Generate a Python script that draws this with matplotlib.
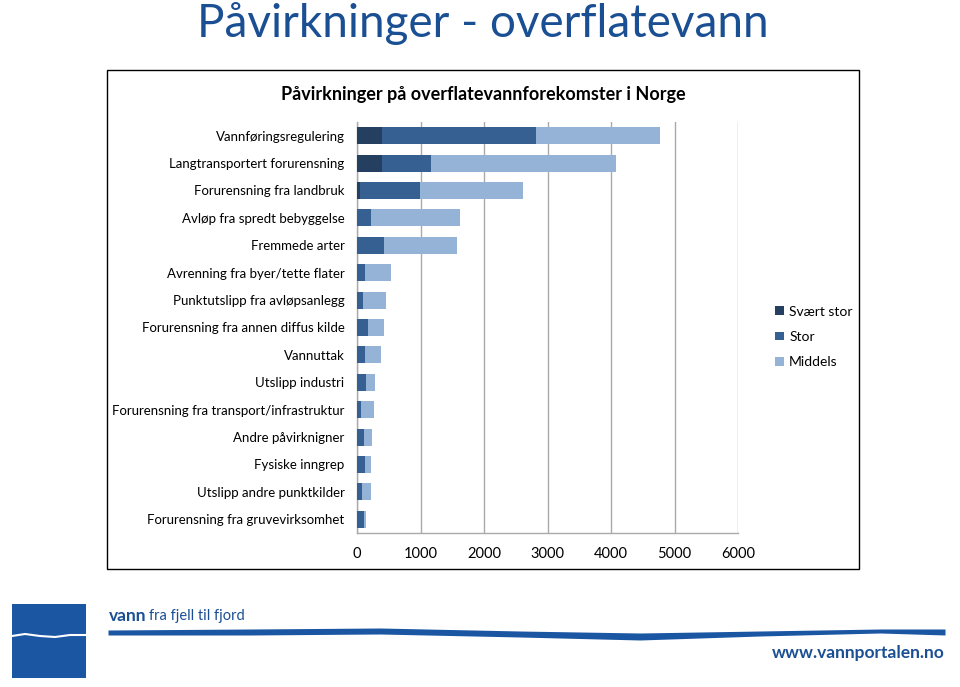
import numpy as np
import matplotlib.pyplot as plt
from matplotlib.patches import Rectangle

plt.rcParams['font.family'] = ['Lato', 'DejaVu Sans']

# Data lest av figuren (antall vannforekomster)
categories = [
    'Vannføringsregulering',
    'Langtransportert forurensning',
    'Forurensning fra landbruk',
    'Avløp fra spredt bebyggelse',
    'Fremmede arter',
    'Avrenning fra byer/tette flater',
    'Punktutslipp fra avløpsanlegg',
    'Forurensning fra annen diffus kilde',
    'Vannuttak',
    'Utslipp industri',
    'Forurensning fra transport/infrastruktur',
    'Andre påvirknigner',
    'Fysiske inngrep',
    'Utslipp andre punktkilder',
    'Forurensning fra gruvevirksomhet',
]
svaert_stor = [390, 400, 50, 0, 0, 0, 0, 0, 0, 0, 0, 0, 0, 0, 0]
stor = [2430, 760, 935, 225, 420, 130, 90, 180, 130, 145, 60, 105, 130, 85, 105]
middels = [1955, 2920, 1630, 1395, 1160, 410, 370, 240, 250, 140, 205, 130, 85, 130, 40]
series_names = ['Svært stor', 'Stor', 'Middels']
xticks = [0, 1000, 2000, 3000, 4000, 5000, 6000]

colors = ['#243F60', '#376092', '#95B3D7']

fig = plt.figure(figsize=(9.6, 6.87), dpi=100)

# Hovedtittel
fig.text(0.503, 0.966, 'Påvirkninger - overflatevann', ha='center', va='center',
         fontsize=33, color='#1B4F93')

# Ramme rundt diagrammet
fig.patches.append(Rectangle((0.1115, 0.1718), 0.7833, 0.7263, transform=fig.transFigure,
                             fill=False, edgecolor='black', linewidth=1.0))
fig.text(0.503, 0.863, 'Påvirkninger på overflatevannforekomster i Norge', ha='center',
         va='center', fontsize=13, fontweight='bold')

ax = fig.add_axes([0.3719, 0.2242, 0.3969, 0.5983])
y = np.arange(len(categories))
left = np.zeros(len(categories))
for vals, name, c in zip([svaert_stor, stor, middels], series_names, colors):
    vals = np.array(vals)
    ax.barh(y, vals, left=left, height=0.62, color=c, label=name, zorder=3)
    left += vals

ax.set_xlim(0, 6000)
ax.set_ylim(len(categories) - 0.5, -0.5)
ax.set_xticks(xticks)
ax.set_xticklabels([str(t) for t in xticks], fontsize=10.5)
ax.set_yticks(y)
ax.set_yticklabels(categories, fontsize=9.5)
ax.tick_params(axis='both', length=0)
ax.tick_params(axis='x', pad=10)
ax.tick_params(axis='y', pad=9)
ax.grid(axis='x', color='#AAAAAA', linewidth=1.0, zorder=0)
for s in ['top', 'right']:
    ax.spines[s].set_visible(False)
ax.spines['left'].set_color('#AAAAAA')
ax.spines['bottom'].set_color('#AAAAAA')
ax.spines['left'].set_linewidth(1.0)
ax.spines['bottom'].set_linewidth(1.0)

ax.legend(loc='center left', bbox_to_anchor=(1.065, 0.477), frameon=False, fontsize=10,
          handlelength=0.6, handleheight=0.6, handletextpad=0.4, labelspacing=0.95)

# Logo / bunntekst
fax = fig.add_axes([0, 0, 1, 1], zorder=-1)
fax.set_xlim(0, 960)
fax.set_ylim(687, 0)
fax.axis('off')
fax.add_patch(Rectangle((12, 604), 74, 74, facecolor='#1B56A3', edgecolor='none'))
wave_x = [12, 25, 40, 55, 70, 86]
wave_y = [636, 634, 636, 637, 635, 635]
fax.plot(wave_x, wave_y, color='white', linewidth=1.5, zorder=5)
band_x = [108, 250, 380, 520, 640, 760, 880, 945]
band_top = [630, 629, 628, 631, 633, 631, 629, 629]
band_bot = [635, 635, 634, 637, 640, 636, 633, 635]
fax.fill_between(band_x, band_top, band_bot, color='#1B56A3', linewidth=0)
fig.text(0.113, 0.104, 'vann', fontsize=12.5, fontweight='bold', color='#1B4F93', va='center')
fig.text(0.155, 0.104, 'fra fjell til fjord', fontsize=10.5, color='#1B4F93', va='center')
fig.text(0.984, 0.049, 'www.vannportalen.no', fontsize=12.5, fontweight='bold',
         color='#1B4F93', ha='right', va='center')

fig.savefig('out.png', dpi=100)
